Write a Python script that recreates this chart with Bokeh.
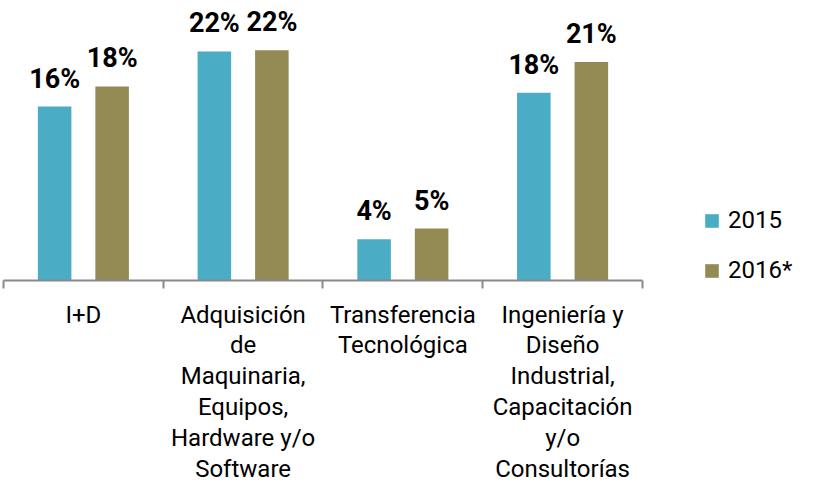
from bokeh.plotting import figure
from bokeh.models import (ColumnDataSource, Range1d, LinearAxis,
                          FixedTicker, Legend, LegendItem)
from bokeh.transform import dodge
from bokeh.core.properties import value
from bokeh.embed import file_html
from bokeh.resources import INLINE

categories = ["I+D",
              "Adquisición\nde\nMaquinaria,\nEquipos,\nHardware y/o\nSoftware",
              "Transferencia\nTecnológica",
              "Ingeniería y\nDiseño\nIndustrial,\nCapacitación\ny/o\nConsultorías"]
series_names = ["2015", "2016*"]
values_2015 = [16.4, 21.6, 3.9, 17.7]
values_2016 = [18.3, 21.7, 4.9, 20.6]
colors = ["#4BACC6", "#948A54"]

FONT = "Roboto"

n = len(categories)
centers = [i + 0.5 for i in range(n)]
bounds = list(range(n + 1))

src = ColumnDataSource(dict(
    x=centers,
    v2015=values_2015,
    v2016=values_2016,
    l2015=[f"{v:.0f}%" for v in values_2015],
    l2016=[f"{v:.0f}%" for v in values_2016],
))

p = figure(x_range=Range1d(0, 4.983),
           y_range=Range1d(0, 26.4),
           width=799, height=485,
           x_axis_location=None, y_axis_location=None,
           output_backend="svg", toolbar_location=None,
           min_border_left=3, min_border_right=0, min_border_top=0, min_border_bottom=205)
p.outline_line_color = None
p.grid.visible = False
p.background_fill_color = "white"
p.border_fill_color = "white"

r1 = p.vbar(x=dodge("x", -0.18), top="v2015", width=0.21, source=src,
            fill_color=colors[0], line_color=None)
r2 = p.vbar(x=dodge("x", 0.18), top="v2016", width=0.21, source=src,
            fill_color=colors[1], line_color=None)

for col, off in (("2015", -0.18), ("2016", 0.18)):
    p.text(x=dodge("x", off), y="v" + col, text="l" + col, source=src,
           text_align="center", text_baseline="alphabetic", y_offset=-28,
           text_font=value(FONT), text_font_style="bold", text_font_size="27px",
           text_color="black")

xaxis = LinearAxis(ticker=FixedTicker(ticks=centers, minor_ticks=bounds), bounds=(0, n),
                   major_label_overrides={c: lab for c, lab in zip(centers, categories)},
                   axis_line_color="#898989", axis_line_width=2,
                   major_tick_line_color=None, major_tick_in=0, major_tick_out=8,
                   minor_tick_line_color="#898989", minor_tick_line_width=2,
                   minor_tick_in=0, minor_tick_out=8,
                   major_label_text_font=FONT, major_label_text_font_size="24px",
                   major_label_text_color="black",
                   major_label_text_line_height=1.1,
                   major_label_standoff=12)
p.add_layout(xaxis, "below")

legend = Legend(items=[LegendItem(label=series_names[0], renderers=[r1]),
                       LegendItem(label=series_names[1], renderers=[r2])],
                location=(700, -4), orientation="vertical",
                glyph_width=17, glyph_height=17, label_standoff=8,
                label_text_font=FONT, label_text_font_size="24px",
                label_text_color="black",
                spacing=22, padding=0, margin=0,
                border_line_color=None, background_fill_alpha=0)
p.add_layout(legend, "center")

open("out.html", "w").write(file_html(p, INLINE))
